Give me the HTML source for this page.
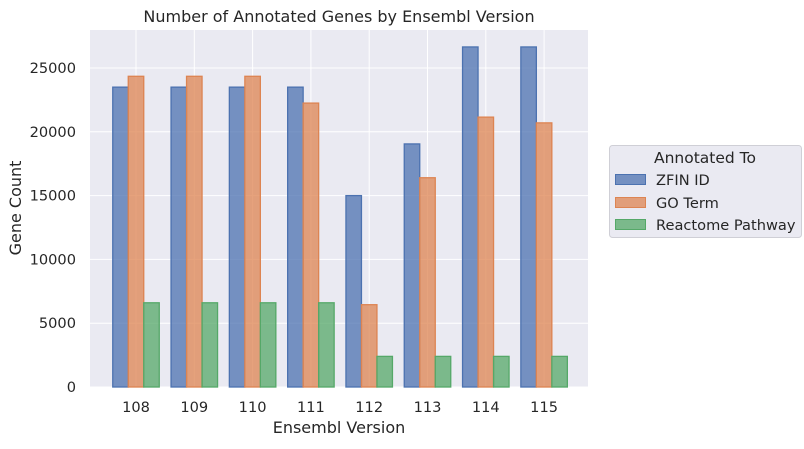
<!DOCTYPE html>
<html><head><meta charset="utf-8"><style>
body{margin:0;background:#fff;font-family:"DejaVu Sans","Liberation Sans",sans-serif;}
svg text{font-family:"DejaVu Sans","Liberation Sans",sans-serif;}
</style></head><body>
<svg id="chart" width="804" height="445" xmlns="http://www.w3.org/2000/svg">
<rect x="90" y="30" width="498" height="357" fill="#eaeaf2"/>
<g id="grid"></g>
<g id="bars"></g>
<g id="ticks"></g>
<text x="339" y="22" text-anchor="middle" font-size="16" fill="#262626">Number of Annotated Genes by Ensembl Version</text>
<text x="339" y="433" text-anchor="middle" font-size="16" fill="#262626">Ensembl Version</text>
<text x="21" y="208" text-anchor="middle" font-size="16" fill="#262626" transform="rotate(-90 21 208)">Gene Count</text>
<g>
<rect x="609.5" y="145.5" width="192" height="92" rx="3" fill="#eaeaf2" stroke="#cfcfd6"/>
<text x="705" y="163" text-anchor="middle" font-size="15.5" fill="#262626">Annotated To</text>
<rect x="615.5" y="174.5" width="30" height="10" fill="#4c72b0" fill-opacity="0.75" stroke="#4c72b0"/>
<text x="656" y="185" font-size="14.6" fill="#262626">ZFIN ID</text>
<rect x="615.5" y="197.5" width="30" height="10" fill="#dd8452" fill-opacity="0.75" stroke="#dd8452"/>
<text x="656" y="208" font-size="14.6" fill="#262626">GO Term</text>
<rect x="615.5" y="219.5" width="30" height="10" fill="#55a868" fill-opacity="0.75" stroke="#55a868"/>
<text x="656" y="230" font-size="14.6" fill="#262626">Reactome Pathway</text>
</g>
</svg>
<script>
const categories=["108","109","110","111","112","113","114","115"];
const zfin=[23500,23500,23500,23500,15000,19050,26650,26650];
const goTerm=[24350,24350,24350,22250,6450,16400,21150,20700];
const reactome=[6600,6600,6600,6600,2400,2400,2400,2400];
const yTicks=[0,5000,10000,15000,20000,25000];
const NS="http://www.w3.org/2000/svg";
const y0=387,pxPer=319/25000,x0=136,step=58.3,bw=15.5;
const yS=v=>y0-v*pxPer;
const xS=i=>x0+i*step;
const grid=document.getElementById('grid'),bars=document.getElementById('bars'),ticks=document.getElementById('ticks');
function mk(t,a,p){const e=document.createElementNS(NS,t);for(const k in a)e.setAttribute(k,a[k]);p.appendChild(e);return e;}
yTicks.forEach(v=>{
 const l=mk('line',{x1:90,x2:588,y1:yS(v),y2:yS(v),stroke:'#fff','stroke-width':1},grid);
 
 
 const t=mk('text',{x:76,y:yS(v)+5,'text-anchor':'end','font-size':14.6,fill:'#262626'},ticks);
 t.textContent=v;
 
 
});
categories.forEach((c,i)=>{
 const l=mk('line',{x1:xS(i),x2:xS(i),y1:30,y2:387,stroke:'#fff','stroke-width':1},grid);
 
 
 const t=mk('text',{x:xS(i),y:412,'text-anchor':'middle','font-size':14.6,fill:'#262626'},ticks);
 t.textContent=c;
 
 
});
const series=[[zfin,'#4c72b0','zfin'],[goTerm,'#dd8452','go'],[reactome,'#55a868','reactome']];
series.forEach(([vals,col,nm],s)=>{
 vals.forEach((v,i)=>{
  const x=xS(i)+(s-1.5)*bw;
  const r=mk('rect',{x:x,y:yS(v),width:bw,height:y0-yS(v),fill:col,'fill-opacity':0.75,stroke:col,'stroke-width':1.3},bars);
  
  
 });
});
</script>
</body></html>
